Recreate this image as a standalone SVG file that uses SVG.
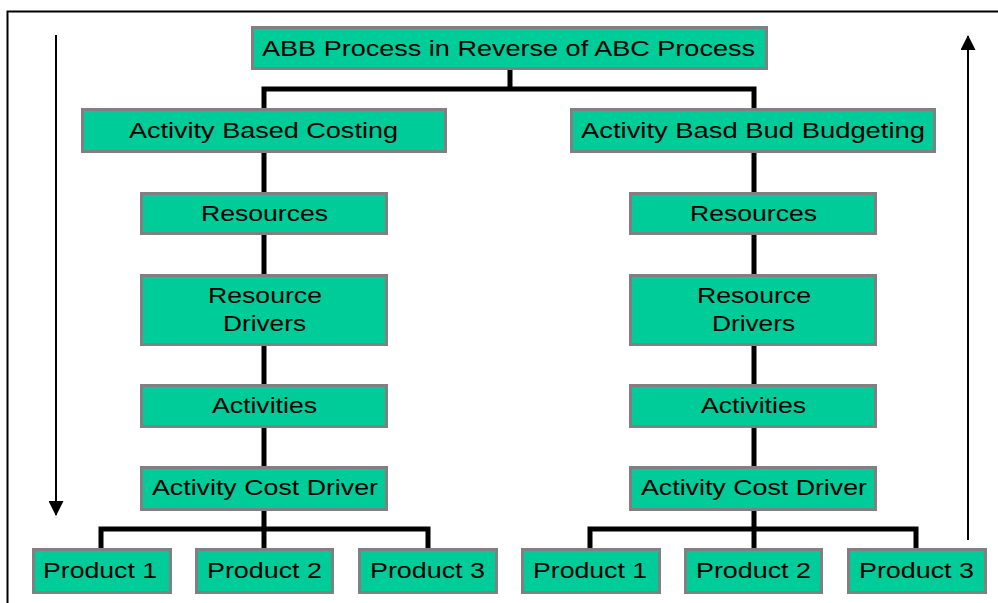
<svg xmlns="http://www.w3.org/2000/svg" width="998" height="603" viewBox="0 0 998 603">
  <style>
    .box { fill: #00CC99; stroke: #808080; stroke-width: 3; }
    .lbl { font-family: "Liberation Sans", Arial, sans-serif; font-size: 22.5px; fill: #000000; text-anchor: middle; }
    .link { stroke: #000000; stroke-width: 5; fill: none; stroke-linejoin: miter; stroke-linecap: butt; }
    .flow { stroke: #000000; stroke-width: 2; fill: none; }
    .frame { stroke: #000000; stroke-width: 2; fill: none; }
  </style>
  <defs>
    <marker id="head" viewBox="0 0 16 16" refX="15" refY="8" markerWidth="16" markerHeight="15" markerUnits="userSpaceOnUse" orient="auto">
      <path d="M0,0 L16,8 L0,16 Z" fill="#000000"/>
    </marker>
  </defs>

  <rect width="998" height="603" fill="#ffffff"/>

  <!-- outer frame (top and left edges) -->
  <path class="frame" d="M7.5,603 V11.5 H998"/>

  <!-- direction arrows -->
  <g id="flow-arrows">
    <line class="flow" x1="56" y1="35" x2="56" y2="515" marker-end="url(#head)"/>
    <line class="flow" x1="968" y1="540" x2="968" y2="36" marker-end="url(#head)"/>
  </g>

  <!-- tree connectors -->
  <g id="connectors">
    <path class="link" d="M510,70 V89"/>
    <path class="link" d="M264,108 V89 H754 V108"/>
    <path class="link" d="M264,153 V548"/>
    <path class="link" d="M754,153 V548"/>
    <path class="link" d="M101,548 V529 H428 V548"/>
    <path class="link" d="M590,548 V529 H916 V548"/>
  </g>

  <g id="root">
    <rect class="box" x="252.5" y="27.5" width="514" height="41"/>
    <text class="lbl" x="508.5" y="56" textLength="493" lengthAdjust="spacingAndGlyphs">ABB Process in Reverse of ABC Process</text>
  </g>

  <!-- left column: costing -->
  <g id="abc">
    <rect class="box" x="82.5" y="109.5" width="363" height="42"/>
    <text class="lbl" x="263.5" y="138" textLength="269" lengthAdjust="spacingAndGlyphs">Activity Based Costing</text>
  </g>
  <g id="abc-resources">
    <rect class="box" x="141.5" y="193.5" width="245" height="40"/>
    <text class="lbl" x="264.5" y="221" textLength="127" lengthAdjust="spacingAndGlyphs">Resources</text>
  </g>
  <g id="abc-resource-drivers">
    <rect class="box" x="141.5" y="275.5" width="245" height="69"/>
    <text class="lbl" x="265" y="303" textLength="114" lengthAdjust="spacingAndGlyphs">Resource</text>
    <text class="lbl" x="264.5" y="331" textLength="83" lengthAdjust="spacingAndGlyphs">Drivers</text>
  </g>
  <g id="abc-activities">
    <rect class="box" x="141.5" y="385.5" width="245" height="41"/>
    <text class="lbl" x="264.5" y="413" textLength="105" lengthAdjust="spacingAndGlyphs">Activities</text>
  </g>
  <g id="abc-cost-driver">
    <rect class="box" x="141.5" y="467.5" width="245" height="42"/>
    <text class="lbl" x="265" y="495" textLength="226" lengthAdjust="spacingAndGlyphs">Activity Cost Driver</text>
  </g>
  <g id="abc-product-1">
    <rect class="box" x="33.5" y="549.5" width="137" height="43"/>
    <text class="lbl" x="100" y="578" textLength="114" lengthAdjust="spacingAndGlyphs">Product 1</text>
  </g>
  <g id="abc-product-2">
    <rect class="box" x="196.5" y="549.5" width="136" height="43"/>
    <text class="lbl" x="264.5" y="578" textLength="115" lengthAdjust="spacingAndGlyphs">Product 2</text>
  </g>
  <g id="abc-product-3">
    <rect class="box" x="359.5" y="549.5" width="137" height="43"/>
    <text class="lbl" x="427.5" y="578" textLength="115" lengthAdjust="spacingAndGlyphs">Product 3</text>
  </g>

  <!-- right column: budgeting -->
  <g id="abb">
    <rect class="box" x="571.5" y="109.5" width="363" height="42"/>
    <text class="lbl" x="753" y="138" textLength="344" lengthAdjust="spacingAndGlyphs">Activity Basd Bud Budgeting</text>
  </g>
  <g id="abb-resources">
    <rect class="box" x="630.5" y="193.5" width="245" height="40"/>
    <text class="lbl" x="753.5" y="221" textLength="127" lengthAdjust="spacingAndGlyphs">Resources</text>
  </g>
  <g id="abb-resource-drivers">
    <rect class="box" x="630.5" y="275.5" width="245" height="69"/>
    <text class="lbl" x="754" y="303" textLength="114" lengthAdjust="spacingAndGlyphs">Resource</text>
    <text class="lbl" x="753.5" y="331" textLength="83" lengthAdjust="spacingAndGlyphs">Drivers</text>
  </g>
  <g id="abb-activities">
    <rect class="box" x="630.5" y="385.5" width="245" height="41"/>
    <text class="lbl" x="753.5" y="413" textLength="105" lengthAdjust="spacingAndGlyphs">Activities</text>
  </g>
  <g id="abb-cost-driver">
    <rect class="box" x="630.5" y="467.5" width="245" height="42"/>
    <text class="lbl" x="754" y="495" textLength="226" lengthAdjust="spacingAndGlyphs">Activity Cost Driver</text>
  </g>
  <g id="abb-product-1">
    <rect class="box" x="522.5" y="549.5" width="137" height="43"/>
    <text class="lbl" x="590" y="578" textLength="114" lengthAdjust="spacingAndGlyphs">Product 1</text>
  </g>
  <g id="abb-product-2">
    <rect class="box" x="685.5" y="549.5" width="136" height="43"/>
    <text class="lbl" x="753.5" y="578" textLength="115" lengthAdjust="spacingAndGlyphs">Product 2</text>
  </g>
  <g id="abb-product-3">
    <rect class="box" x="848.5" y="549.5" width="137" height="43"/>
    <text class="lbl" x="916.5" y="578" textLength="115" lengthAdjust="spacingAndGlyphs">Product 3</text>
  </g>
</svg>
